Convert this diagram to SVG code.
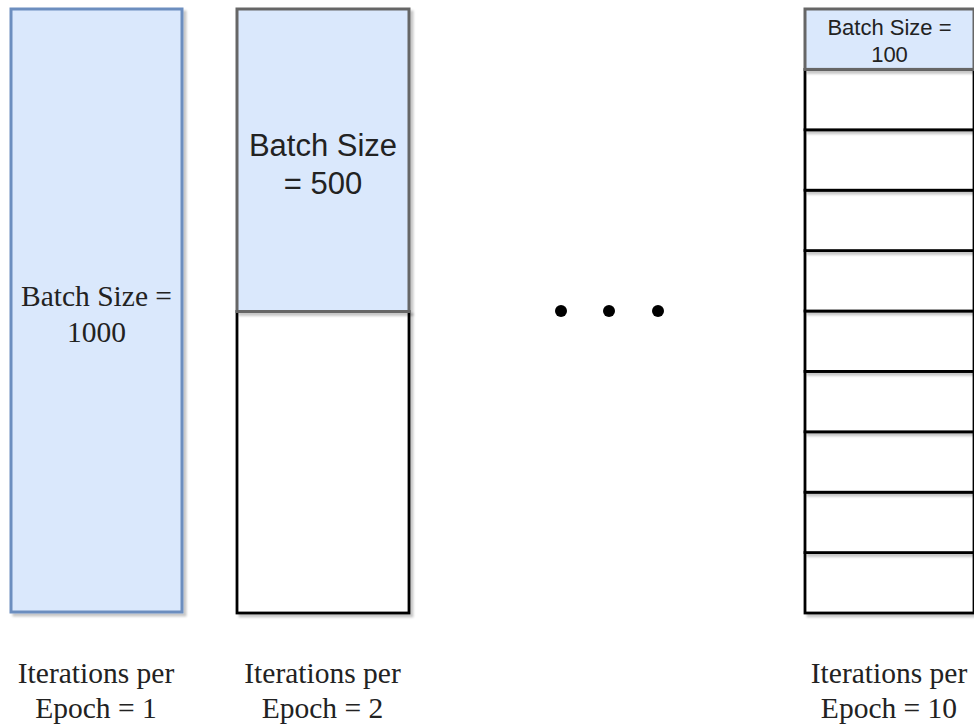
<svg xmlns="http://www.w3.org/2000/svg" width="974" height="726" viewBox="0 0 974 726">
  <defs>
    <filter id="shadow" x="-10%" y="-10%" width="130%" height="130%">
      <feOffset in="SourceAlpha" dx="3" dy="3" result="off"/>
      <feGaussianBlur in="off" stdDeviation="1" result="blur"/>
      <feFlood flood-color="#000" flood-opacity="0.22"/>
      <feComposite in2="blur" operator="in" result="sh"/>
      <feMerge><feMergeNode in="sh"/><feMergeNode in="SourceGraphic"/></feMerge>
    </filter>
  </defs>
  <style>
    .batch { fill: #dae8fc; stroke: #6c8ebf; stroke-width: 3; }
    .batch-top { fill: #dae8fc; stroke: #666; stroke-width: 3; }
    .slot { fill: #fff; stroke: #000; stroke-width: 2.8; }
    .serif { font-family: "Liberation Serif", "Times New Roman", serif; fill: #222; text-anchor: middle; }
    .sans { font-family: "Liberation Sans", Arial, sans-serif; fill: #222; text-anchor: middle; }
    .dot { fill: #000; }
  </style>

  <rect width="974" height="726" fill="#fff"/>

  <!-- Full batch: one iteration per epoch -->
  <g id="batch-1000">
    <rect class="batch" x="11" y="9" width="171" height="603" filter="url(#shadow)"/>
    <text class="serif" font-size="29.5" x="96.5" y="306">Batch Size =</text>
    <text class="serif" font-size="29.5" x="96.5" y="341.5">1000</text>
  </g>

  <!-- Two batches of 500 -->
  <g id="batch-500">
    <rect class="slot" x="237" y="311.5" width="172" height="301.5" filter="url(#shadow)"/>
    <rect class="batch-top" x="237" y="9" width="172" height="302.5" filter="url(#shadow)"/>
    <text class="sans" font-size="31" x="323" y="156">Batch Size</text>
    <text class="sans" font-size="31" x="323" y="194">= 500</text>
  </g>

  <!-- Ellipsis between the columns -->
  <g id="ellipsis">
    <circle class="dot" cx="561" cy="311" r="6"/>
    <circle class="dot" cx="609" cy="311" r="6"/>
    <circle class="dot" cx="658" cy="311" r="6"/>
  </g>

  <!-- Ten batches of 100 (drawn bottom-up so each shadow falls on the slot below) -->
  <g id="batch-100">
    <rect class="slot" x="805" y="552.6" width="169" height="60.4" filter="url(#shadow)"/>
    <rect class="slot" x="805" y="492.2" width="169" height="60.4" filter="url(#shadow)"/>
    <rect class="slot" x="805" y="431.8" width="169" height="60.4" filter="url(#shadow)"/>
    <rect class="slot" x="805" y="371.4" width="169" height="60.4" filter="url(#shadow)"/>
    <rect class="slot" x="805" y="311" width="169" height="60.4" filter="url(#shadow)"/>
    <rect class="slot" x="805" y="250.6" width="169" height="60.4" filter="url(#shadow)"/>
    <rect class="slot" x="805" y="190.2" width="169" height="60.4" filter="url(#shadow)"/>
    <rect class="slot" x="805" y="129.8" width="169" height="60.4" filter="url(#shadow)"/>
    <rect class="slot" x="805" y="69.4" width="169" height="60.4" filter="url(#shadow)"/>
    <rect class="batch-top" x="805" y="9" width="169" height="60.4" filter="url(#shadow)"/>
    <text class="sans" font-size="22" x="889.5" y="35">Batch Size =</text>
    <text class="sans" font-size="22" x="889.5" y="61.5">100</text>
  </g>

  <!-- Iteration counts -->
  <g id="label-1">
    <text class="serif" font-size="29.5" x="96" y="683">Iterations per</text>
    <text class="serif" font-size="29.5" x="96" y="718">Epoch = 1</text>
  </g>
  <g id="label-2">
    <text class="serif" font-size="29.5" x="322.5" y="683">Iterations per</text>
    <text class="serif" font-size="29.5" x="322.5" y="718">Epoch = 2</text>
  </g>
  <g id="label-10">
    <text class="serif" font-size="29.5" x="889" y="683">Iterations per</text>
    <text class="serif" font-size="29.5" x="889" y="718">Epoch = 10</text>
  </g>
</svg>
